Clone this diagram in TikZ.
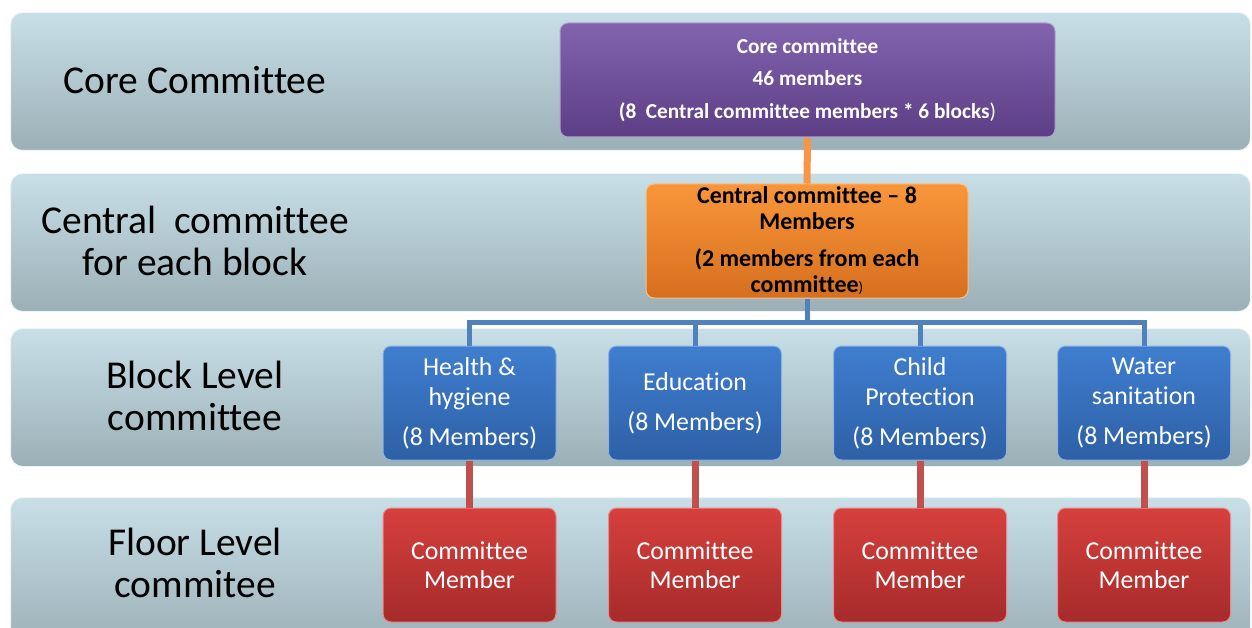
\documentclass[tikz,border=0pt]{standalone}
\usepackage{fontspec}
\setmainfont{Carlito}[Ligatures=NoCommon]
\definecolor{bandtop}{HTML}{C8DFE7}
\definecolor{bandbot}{HTML}{9BAFB6}
\definecolor{coretop}{HTML}{8263AE}
\definecolor{corebot}{HTML}{5C3E86}
\definecolor{centtop}{HTML}{F9963A}
\definecolor{centbot}{HTML}{D66F1E}
\definecolor{blocktop}{HTML}{3F7ECF}
\definecolor{blockbot}{HTML}{2D60A6}
\definecolor{floortop}{HTML}{D6403D}
\definecolor{floorbot}{HTML}{A62B2A}
\definecolor{orangeln}{HTML}{F79646}
\definecolor{blueln}{HTML}{4F81BD}
\definecolor{redln}{HTML}{C0504D}
\tikzset{
  band/.style={rectangle,rounded corners=12pt,draw=white!70!bandtop,line width=1pt,
    top color=bandtop,bottom color=bandbot,minimum width=1240pt,minimum height=138pt,
    anchor=north west,inner sep=0pt},
  levellabel/.style={align=center,font=\fontsize{39.5}{42.5}\selectfont,text=black},
  box/.style={rectangle,rounded corners=8pt,draw=white!40!#1top,line width=1pt,
    top color=#1top,bottom color=#1bot,inner sep=0pt,align=center},
  corebox/.style={box=core,minimum width=495pt,minimum height=114pt,text=white,
    font=\bfseries\fontsize{21.3}{32.5}\selectfont},
  centbox/.style={box=cent,minimum width=322pt,minimum height=114pt,text=black,
    font=\bfseries\fontsize{24}{26}\selectfont},
  blockbox/.style={box=block,minimum width=173pt,minimum height=114pt,text=white,
    font=\fontsize{25.8}{30}\selectfont},
  floorbox/.style={box=floor,minimum width=173pt,minimum height=114pt,text=white,
    font=\fontsize{25.8}{29}\selectfont},
  link/.style={line width=#1}
}
\begin{document}
\begin{tikzpicture}[x=1pt,y=-1pt]
\useasboundingbox (0,0) rectangle (1252,628);

% background bands, one per level
\node[band] (band1) at (10,12) {};
\node[band] (band2) at (10,173) {};
\node[band] (band3) at (10,328) {};
\node[band,minimum height=150pt] (band4) at (10,497) {};

% level names
\node[levellabel] (lab1) at (195,80) {Core Committee};
\node[levellabel] (lab2) at (195,241) {Central\ \ committee\\for each block};
\node[levellabel] (lab3) at (195,396) {Block Level\\committee};
\node[levellabel] (lab4) at (195,563) {Floor Level\\commitee};

% top of the tree
\node[corebox] (core) at (807.5,80) {Core committee\\46 members\\(8\ \ Central committee members * 6 blocks{\mdseries)}};
\node[centbox] (central) at (807,241) {Central committee -- 8\\Members\\[11pt](2 members from each\\committee{\mdseries\fontsize{15}{15}\selectfont)}};
\draw[link=7pt,orangeln] (core.south) -- (central.north);
\coordinate (bus) at (807,322);
\draw[link=5pt,blueln] (central.south) -- (bus);

% one column per block committee
\foreach \i/\x/\name in {1/469.5/{Health \&\\hygiene},2/695/{Education},3/920/{Child\\Protection},4/1144/{Water\\sanitation}} {
  \node[blockbox] (block\i) at (\x,403) {\name\\[10pt](8 Members)};
  \node[floorbox] (floor\i) at (\x,565) {Committee\\Member};
  \draw[link=5pt,blueln] (block\i.north) |- (bus);
  \draw[link=7pt,redln] (block\i.south) -- (floor\i.north);
}
\end{tikzpicture}
\end{document}
